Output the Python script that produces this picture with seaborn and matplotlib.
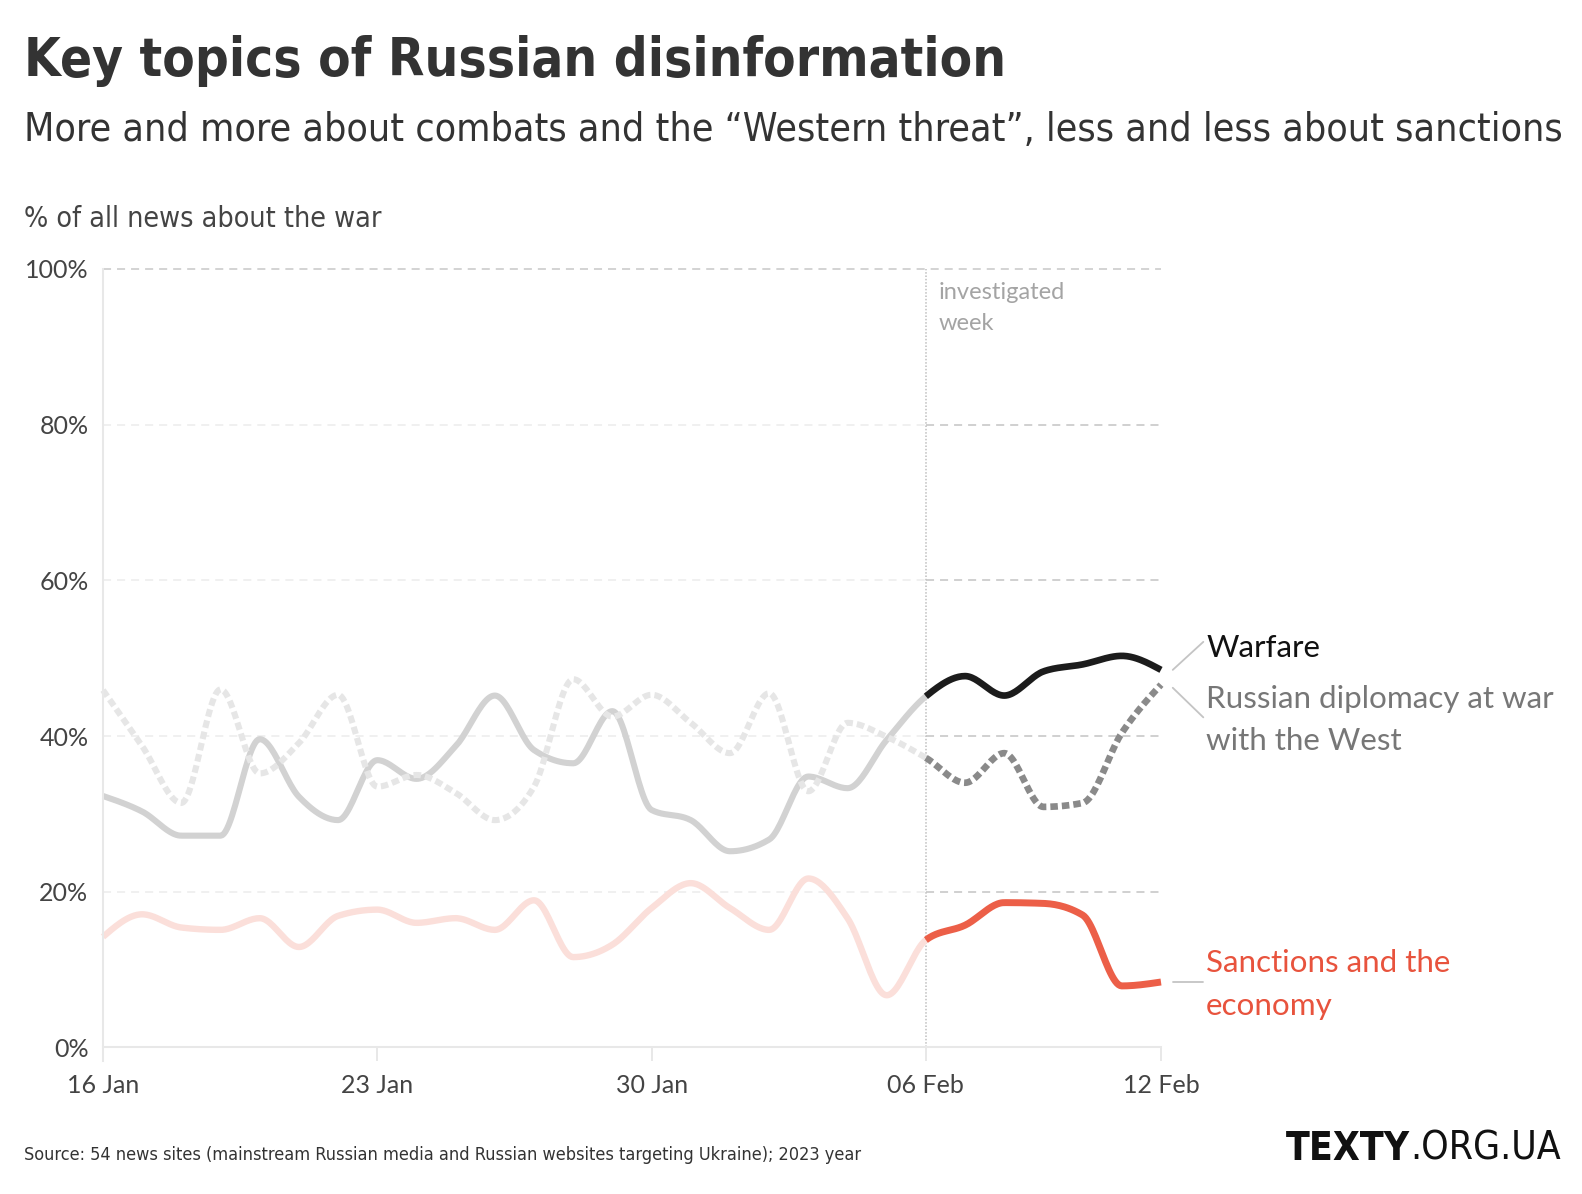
import numpy as np
import pandas as pd
import seaborn as sns
import matplotlib.pyplot as plt

# --- Data (share of all war news, %) ---
days = list(range(28))
tick_days = [0, 7, 14, 21, 27]
tick_labels = ['16 Jan', '23 Jan', '30 Jan', '06 Feb', '12 Feb']
y_ticks = [0, 20, 40, 60, 80, 100]
y_tick_labels = ['0%', '20%', '40%', '60%', '80%', '100%']
week_start = 21

warfare = [32.3, 30.3, 27.2, 27.2, 39.6, 32.2, 29.2, 36.9, 34.5, 38.7,
           45.2, 38.2, 36.5, 43.2, 30.5, 29.2, 25.2, 26.7, 34.8, 33.3,
           39.5, 45.1, 47.7, 45.2, 48.3, 49.2, 50.3, 48.5]
diplomacy = [45.9, 38.7, 31.4, 46.0, 35.2, 39.1, 45.3, 33.5, 35.0, 32.7,
             29.2, 33.5, 47.3, 42.5, 45.3, 41.7, 37.8, 45.5, 32.9, 41.7,
             39.9, 37.2, 34.0, 37.8, 30.9, 31.4, 40.4, 46.6]
sanctions = [14.2, 17.1, 15.4, 15.1, 16.6, 12.9, 16.9, 17.7, 16.0, 16.6,
             15.1, 18.9, 11.6, 13.2, 17.9, 21.1, 17.9, 15.1, 21.7, 16.6,
             6.7, 13.8, 15.7, 18.6, 18.5, 17.0, 7.9, 8.4]


def monotone_curve(x, y, steps=24):
    """Render helper: monotone cubic (d3 curveMonotoneX style) through the points."""
    x = np.asarray(x, float)
    y = np.asarray(y, float)
    h = np.diff(x)
    s = np.diff(y) / h
    t = np.zeros_like(y)
    for i in range(1, len(y) - 1):
        p = (s[i - 1] * h[i] + s[i] * h[i - 1]) / (h[i - 1] + h[i])
        t[i] = (np.sign(s[i - 1]) + np.sign(s[i])) * min(abs(s[i - 1]), abs(s[i]), 0.5 * abs(p))
    t[0] = (3 * s[0] - t[1]) / 2
    t[-1] = (3 * s[-1] - t[-2]) / 2
    xs, ys = [], []
    for i in range(len(h)):
        u = np.linspace(0, 1, steps, endpoint=(i == len(h) - 1))
        h00 = 2 * u**3 - 3 * u**2 + 1
        h10 = u**3 - 2 * u**2 + u
        h01 = -2 * u**3 + 3 * u**2
        h11 = u**3 - u**2
        xs.append(x[i] + u * h[i])
        ys.append(h00 * y[i] + h10 * h[i] * t[i] + h01 * y[i + 1] + h11 * h[i] * t[i + 1])
    return np.concatenate(xs), np.concatenate(ys)


# --- Style ---
sns.set_theme(style='white')
plt.rcParams['font.family'] = ['Lato', 'DejaVu Sans']
plt.rcParams['lines.scale_dashes'] = False

W, H = 1582, 1194
fig = plt.figure(figsize=(W / 100, H / 100), dpi=100)
ax = fig.add_axes([103 / W, 1 - 1047.4 / H, (1161 - 103) / W, (1047.4 - 269) / H])

series = [
    # values, light colour, dark colour, width (pt), dash pattern
    (sanctions, '#fbdfda', '#ec5f48', 4.6, None),
    (warfare, '#d2d2d2', '#1c1c1c', 4.4, None),
    (diplomacy, '#e6e6e6', '#8a8a8a', 4.4, (0, (5.4, 2.9))),
]

# gridlines: light before the investigated week, darker inside it
grid_dash = (0, (5.8, 4.3))
for v in y_ticks[1:-1]:
    ax.hlines(v, 0, week_start, color='#ececec', lw=1.1, linestyle=grid_dash, zorder=1)
    ax.hlines(v, week_start, days[-1], color='#c4c4c4', lw=1.1, linestyle=grid_dash, zorder=1)
ax.hlines(100, 0, days[-1], color='#c8c8c8', lw=1.1, linestyle=grid_dash, zorder=1, clip_on=False)
ax.vlines(week_start, 0, 100, color='#c4c4c4', lw=1.2, linestyle=(0, (1.1, 1.3)), zorder=1)

for values, light, dark, lw, dash in series:
    xs, ys = monotone_curve(days, values)
    df = pd.DataFrame({'day': xs, 'share': ys})
    before = df[df['day'] <= week_start]
    after = df[df['day'] >= week_start]
    ls = dash if dash else '-'
    sns.lineplot(data=before, x='day', y='share', ax=ax, color=light, lw=lw,
                 linestyle=ls, estimator=None, clip_on=False, zorder=2,
                 solid_capstyle='butt', dash_capstyle='butt')
    sns.lineplot(data=after, x='day', y='share', ax=ax, color=dark, lw=lw + 0.4,
                 linestyle=ls, estimator=None, clip_on=False, zorder=4,
                 solid_capstyle='butt', dash_capstyle='butt')

ax.set_xlim(days[0], days[-1])
ax.set_ylim(0, 100)
ax.set_xticks(tick_days)
ax.set_xticklabels(tick_labels)
ax.set_yticks(y_ticks)
ax.set_yticklabels(y_tick_labels)
ax.set_xlabel('')
ax.set_ylabel('')
ax.tick_params(axis='x', length=10, width=1.4, color='#e8e8e8', pad=9,
               labelsize=18, labelcolor='#444444', direction='out', bottom=True)
ax.tick_params(axis='y', length=0, pad=10.5, labelsize=18, labelcolor='#444444', left=False)
for side in ['top', 'right']:
    ax.spines[side].set_visible(False)
for side in ['left', 'bottom']:
    ax.spines[side].set_color('#e8e8e8')
    ax.spines[side].set_linewidth(1.5)
ax.spines['left'].set_bounds(-1.8, 100)

# investigated week note
ax.text(week_start + 0.33, 96.1, 'investigated', color='#a4a4a4', fontsize=17, va='baseline')
ax.text(week_start + 0.33, 92.1, 'week', color='#a4a4a4', fontsize=17, va='baseline')

# end labels with leader lines
x0, x1, xt = days[-1] + 0.3, days[-1] + 1.08, days[-1] + 1.15
lead = dict(color='#c4c4c4', lw=1.3, clip_on=False)
ax.plot([x0, x1], [warfare[-1], 52.1], **lead)
ax.plot([x0, x1], [diplomacy[-1] - 0.4, 42.4], **lead)
ax.plot([x0, x1], [sanctions[-1], sanctions[-1]], **lead)
label_kw = dict(fontsize=22.6, va='baseline', ha='left', clip_on=False)
ax.text(xt, 50.1, 'Warfare', color='#111111', **label_kw)
ax.text(xt, 43.6, 'Russian diplomacy at war', color='#777777', **label_kw)
ax.text(xt, 38.2, 'with the West', color='#777777', **label_kw)
ax.text(xt, 9.7, 'Sanctions and the', color='#e8533d', **label_kw)
ax.text(xt, 4.2, 'economy', color='#e8533d', **label_kw)

# titles
head = ['DejaVu Sans']
fig.text(24 / W, 1 - 76 / H, 'Key topics of Russian disinformation', family=head,
         fontstretch='condensed', weight='bold', fontsize=38, color='#333333', va='baseline')
fig.text(24 / W, 1 - 141 / H, 'More and more about combats and the \u201cWestern threat\u201d, '
         'less and less about sanctions', family=head, fontstretch='condensed',
         fontsize=28.2, color='#333333', va='baseline')
fig.text(24 / W, 1 - 227 / H, '% of all news about the war', family=head,
         fontstretch='condensed', fontsize=20.5, color='#444444', va='baseline')
fig.text(24 / W, 1 - 1160 / H, 'Source: 54 news sites (mainstream Russian media and Russian '
         'websites targeting Ukraine); 2023 year', family=head, fontstretch='condensed',
         fontsize=13, color='#333333', va='baseline')
logo = fig.text(1286 / W, 1 - 1160 / H, 'TEXTY', family=head, fontstretch='condensed',
                weight='bold', fontsize=28, color='#111111', va='baseline')
fig.canvas.draw()
logo_end = logo.get_window_extent().x1 / W
fig.text(logo_end, 1 - 1160 / H, '.ORG.UA', family=head, fontstretch='condensed',
         fontsize=28, color='#111111', va='baseline', ha='left')

fig.savefig('out.png', dpi=100, facecolor='white')
